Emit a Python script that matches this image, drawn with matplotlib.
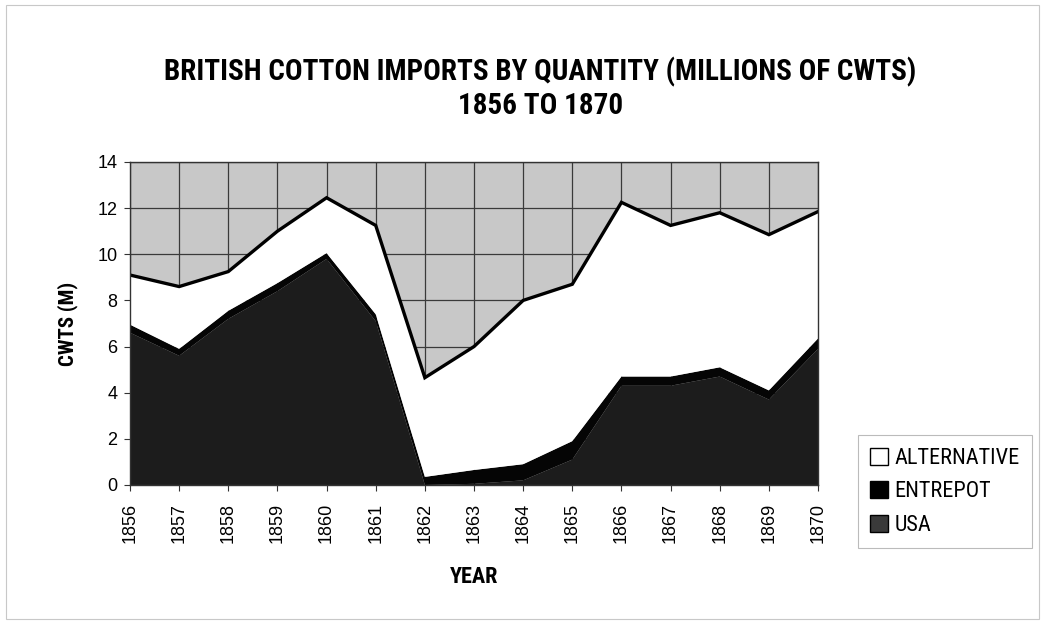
#!/usr/bin/env python3

import matplotlib

matplotlib.use("Agg")
import matplotlib.pyplot as plt
from matplotlib.patches import Patch, Rectangle

# British cotton imports, millions of cwts
YEARS = list(range(1856, 1871))
USA = [6.6, 5.6, 7.2, 8.4, 9.8, 7.1, 0.0, 0.05, 0.2, 1.1, 4.3, 4.3, 4.7, 3.7, 5.9]
ENTREPOT = [0.35, 0.3, 0.35, 0.35, 0.25, 0.3, 0.35, 0.6, 0.7, 0.8, 0.4, 0.4, 0.4, 0.4, 0.45]
ALTERNATIVE = [2.15, 2.7, 1.7, 2.25, 2.4, 3.85, 4.3, 5.35, 7.1, 6.8, 7.55, 6.55, 6.7, 6.75, 5.5]
Y_TICKS = [0, 2, 4, 6, 8, 10, 12, 14]

NARROW = ["Roboto Condensed", "Liberation Sans", "DejaVu Sans"]
BODY_FONT = ["Liberation Sans", "DejaVu Sans"]

plt.rcParams["font.family"] = BODY_FONT

fig = plt.figure(figsize=(10.45, 6.24), dpi=100)
fig.patch.set_facecolor("white")

# faint border round the chart area
fig.add_artist(Rectangle((0.006, 0.008), 0.988, 0.984, transform=fig.transFigure,
                         fill=False, edgecolor="#c8c8c8", linewidth=0.8))

ax = fig.add_axes([0.1244, 0.2228, 0.6584, 0.5176])
ax.set_facecolor("#c8c8c8")

ax.stackplot(
    YEARS, USA, ENTREPOT, ALTERNATIVE,
    colors=["#1c1c1c", "#050505", "#ffffff"],
    edgecolor="none", zorder=3,
)

top = [u + e + a for u, e, a in zip(USA, ENTREPOT, ALTERNATIVE)]
ax.plot(YEARS, top, color="black", linewidth=2.4, zorder=4, solid_joinstyle="miter")

ax.set_xlim(YEARS[0], YEARS[-1])
ax.set_ylim(0, 14)
ax.set_xticks(YEARS)
ax.set_xticklabels([str(y) for y in YEARS], rotation=90, fontsize=13)
ax.set_yticks(Y_TICKS)
ax.set_yticklabels([str(t) for t in Y_TICKS], fontsize=13)
ax.tick_params(axis="both", direction="out", length=4, width=0.8, color="#333333")
ax.tick_params(axis="x", pad=9)
ax.tick_params(axis="y", pad=5)

ax.grid(True, color="#3a3a3a", linewidth=0.9, zorder=1)
ax.set_axisbelow(True)
for spine in ax.spines.values():
    spine.set_color("#333333")
    spine.set_linewidth(1.0)
    spine.set_zorder(5)

ax.set_ylabel("CWTS (M)", fontsize=15, fontweight="bold", family=NARROW, labelpad=14)
ax.set_xlabel("YEAR", fontsize=16, fontweight="bold", family=NARROW, labelpad=16)

fig.text(0.517, 0.884, "BRITISH COTTON IMPORTS BY QUANTITY (MILLIONS OF CWTS)",
         ha="center", va="center", fontsize=21, fontweight="bold", family=NARROW)
fig.text(0.517, 0.830, "1856 TO 1870",
         ha="center", va="center", fontsize=21, fontweight="bold", family=NARROW)

handles = [
    Patch(facecolor="#ffffff", edgecolor="black", linewidth=1.0, label="ALTERNATIVE"),
    Patch(facecolor="#000000", edgecolor="black", linewidth=1.0, label="ENTREPOT"),
    Patch(facecolor="#3a3a3a", edgecolor="black", linewidth=1.0, label="USA"),
]
leg = fig.legend(
    handles=handles, loc="upper left", bbox_to_anchor=(0.81, 0.32),
    frameon=True, fancybox=False, handlelength=0.8, handleheight=0.8,
    handletextpad=0.3, labelspacing=0.55, borderpad=0.55,
    prop={"family": NARROW, "size": 16},
)
leg.get_frame().set_edgecolor("#aaaaaa")
leg.get_frame().set_linewidth(0.8)

fig.savefig("out.png", dpi=100)
